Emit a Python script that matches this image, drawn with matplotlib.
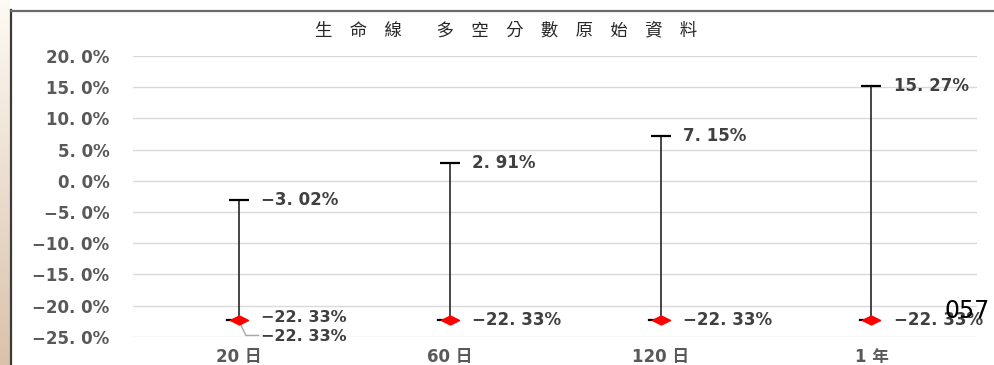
import matplotlib
matplotlib.use("Agg")
import matplotlib.pyplot as plt
import numpy as np
from matplotlib.path import Path

plt.rcParams['font.family'] = ['DejaVu Sans', 'Noto Sans CJK TC']

categories = ["20 日", "60 日", "120 日", "1 年"]
high_values = [-3.02, 2.91, 7.15, 15.27]
low_values = [-22.33, -22.33, -22.33, -22.33]
high_labels = ["−3. 02%", "2. 91%", "7. 15%", "15. 27%"]
low_labels = ["−22. 33%", "−22. 33%", "−22. 33%", "−22. 33%"]
extra_label = "−22. 33%"
yticks = [20, 15, 10, 5, 0, -5, -10, -15, -20, -25]
ytick_labels = ["20. 0%", "15. 0%", "10. 0%", "5. 0%", "0. 0%", "−5. 0%",
                "−10. 0%", "−15. 0%", "−20. 0%", "−25. 0%"]
title = "生　命　線　　多　空　分　數　原　始　資　料"

W, H = 995, 365
fig = plt.figure(figsize=(W / 100, H / 100), dpi=100)
fig.patch.set_facecolor("white")

# left gradient strip
strip = fig.add_axes([0, 0, 10 / W, 1])
grad = np.linspace(0, 1, 256).reshape(-1, 1)
c_top = np.array([0.995, 0.98, 0.955])
c_bot = np.array([0.85, 0.76, 0.67])
img = c_top[None, None, :] * (1 - grad[:, :, None]) + c_bot[None, None, :] * grad[:, :, None]
strip.imshow(img, aspect="auto", extent=[0, 1, 0, 1], origin="upper")
strip.axis("off")

# frame lines
fig.add_artist(plt.Line2D([11.5 / W, 11.5 / W], [0, 1 - 10 / H], color="#3a3a3a", lw=1.6, transform=fig.transFigure))
fig.add_artist(plt.Line2D([11 / W, 1], [1 - 10.5 / H, 1 - 10.5 / H], color="#6a6a6a", lw=1.6, transform=fig.transFigure))

ax_left, ax_right = 133 / W, 977 / W
y_top, y_bot = 56, 336.7
ax = fig.add_axes([ax_left, 1 - y_bot / H, ax_right - ax_left, (y_bot - y_top) / H])
ax.set_xlim(-0.5, len(categories) - 0.5)
ax.set_ylim(-25, 20)
for s in ax.spines.values():
    s.set_visible(False)
ax.set_yticks(yticks)
ax.set_yticklabels(ytick_labels)
ax.set_xticks(range(len(categories)))
ax.set_xticklabels(categories)
ax.tick_params(axis="both", length=0, colors="#595959", labelsize=12)
ax.tick_params(axis="y", pad=17)
ax.tick_params(axis="x", pad=8)
for t in ax.get_yticklabels() + ax.get_xticklabels():
    t.set_fontweight("bold")
ax.grid(axis="y", color="#d9d9d9", lw=1)
ax.set_axisbelow(True)

x = np.arange(len(categories))
diamond = Path([(-1, 0), (0, 0.5), (1, 0), (0, -0.5), (-1, 0)],
               [Path.MOVETO, Path.LINETO, Path.LINETO, Path.LINETO, Path.CLOSEPOLY])
ax.vlines(x, low_values, high_values, color="#262626", lw=1.2, zorder=3)
ax.plot(x, high_values, ls="none", marker="_", ms=14, mew=1.6, color="black", zorder=4)
for xi, lv in zip(x, low_values):
    ax.plot([xi - 0.055, xi - 0.02], [lv, lv], color="black", lw=1.6, zorder=4)
ax.plot(x, low_values, ls="none", marker=diamond, ms=13, color="#ff0000", mec="#ff0000", zorder=5)

off = 0.105
for i, (xi, hv, hl, lv, ll) in enumerate(zip(x, high_values, high_labels, low_values, low_labels)):
    ax.text(xi + off, hv, hl, ha="left", va="center", fontsize=12, fontweight="bold", color="#404040")
    if i == 0:
        ax.annotate(ll, (xi + off, lv), xytext=(0, 1.5), textcoords="offset points",
                    ha="left", va="center", fontsize=11.5, fontweight="bold", color="#404040")
    else:
        ax.text(xi + off, lv, ll, ha="left", va="center", fontsize=12, fontweight="bold", color="#404040")

# extra overlapping label for first category with leader line
ax.plot([x[0], x[0] + 0.035, x[0] + 0.095], [low_values[0], -24.8, -24.8], color="#a6a6a6", lw=1, zorder=2)
ax.text(x[0] + off, -25.0, extra_label, ha="left", va="center", fontsize=11.5, fontweight="bold", color="#404040")

fig.text(506 / W, 1 - 30 / H, title, ha="center", va="center", fontsize=12.5,
         color="#262626", family=["Noto Sans CJK TC", "DejaVu Sans"])

fig.text(967 / W, 1 - 311 / H, "057", ha="center", va="center", fontsize=17, color="black",
         family=["Liberation Sans Narrow", "DejaVu Sans"])

fig.savefig("out.png", dpi=100)
